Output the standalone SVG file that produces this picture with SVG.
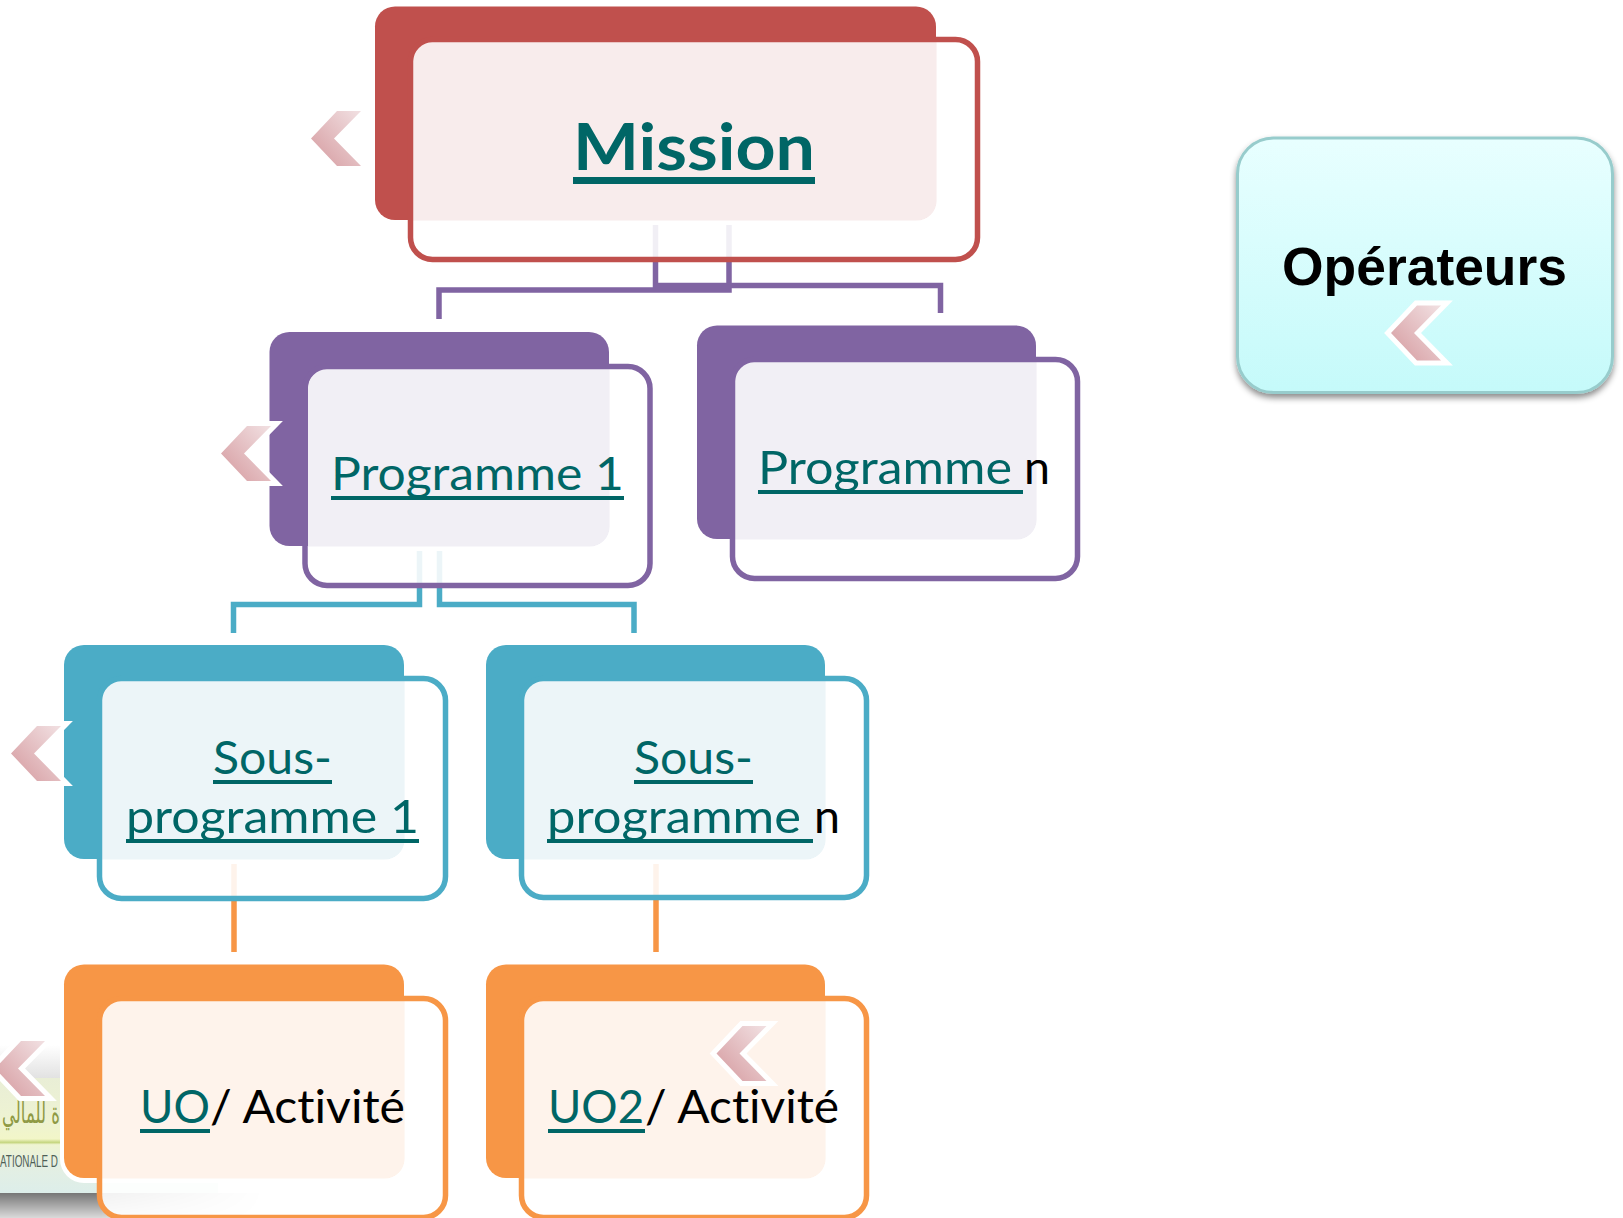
<svg xmlns="http://www.w3.org/2000/svg" width="1623" height="1218" viewBox="0 0 1623 1218">
<style>
text{font-family:"Lato","Noto Sans",sans-serif}
.lk{fill:#006666}
.bk{fill:#000}
.ul{fill:#006666}
.s{font-size:46px;font-variant-ligatures:none}
.front{fill:none;stroke-width:5.5}
.conn{fill:none;stroke-width:5.5}
.red .b{fill:#C0504D}.red .o{fill:#F8ECEC}.red .front{stroke:#C0504D}
.pur .b{fill:#8064A2}.pur .o{fill:#F1EFF5}.pur .front{stroke:#8064A2}
.blu .b{fill:#4BACC6}.blu .o{fill:#ECF5F8}.blu .front{stroke:#4BACC6}
.org .b{fill:#F79646}.org .o{fill:#FEF3EB}.org .front{stroke:#F79646}
.chev{fill:url(#chevGrad);stroke:#fff;stroke-width:10;paint-order:stroke;stroke-miterlimit:4}
</style>
<defs>
<linearGradient id="chevGrad" x1="0.9" y1="0" x2="0.2" y2="0.7"><stop offset="0" stop-color="#F0DDDF"/><stop offset="1" stop-color="#DCABAF"/></linearGradient>
<linearGradient id="opGrad" x1="0" y1="0" x2="0" y2="1"><stop offset="0" stop-color="#E8FFFF"/><stop offset="1" stop-color="#C5FAFA"/></linearGradient>
<linearGradient id="logoGrad" x1="0" y1="0" x2="0" y2="1">
<stop offset="0" stop-color="#E9EED6"/><stop offset="0.38" stop-color="#EEF3D2"/><stop offset="0.53" stop-color="#F2F6C8"/><stop offset="0.56" stop-color="#C6D680"/><stop offset="0.58" stop-color="#EFF4D2"/><stop offset="0.75" stop-color="#E4EFE2"/><stop offset="1" stop-color="#DDEEEA"/></linearGradient>
<linearGradient id="topGrad" x1="0" y1="0" x2="0" y2="1"><stop offset="0" stop-color="#fff"/><stop offset="1" stop-color="#E2E2E2"/></linearGradient>
<linearGradient id="shGrad" x1="0" y1="0" x2="0" y2="1"><stop offset="0" stop-color="#767676"/><stop offset="1" stop-color="#DADADA"/></linearGradient>
<linearGradient id="fadeGrad" gradientUnits="userSpaceOnUse" x1="100" y1="0" x2="270" y2="0"><stop offset="0" stop-color="#fff"/><stop offset="1" stop-color="#000"/></linearGradient>
<mask id="fade" maskUnits="userSpaceOnUse" x="0" y="1190" width="300" height="28"><rect x="0" y="1190" width="300" height="28" fill="url(#fadeGrad)"/></mask>
<filter id="opShadow" x="-5%" y="-5%" width="110%" height="115%"><feDropShadow dx="0" dy="4" stdDeviation="3" flood-color="#000" flood-opacity="0.45"/></filter>
<polygon id="chevron" class="chev" points="26,0 50,0 23,27.5 50,55 26,55 0,27.5"/>
</defs>

<g id="logo">
<rect x="0" y="1045" width="60" height="33" fill="url(#topGrad)"/>
<rect x="0" y="1078" width="218" height="115" fill="url(#logoGrad)"/>
<rect x="0" y="1193" width="280" height="25" fill="url(#shGrad)" mask="url(#fade)"/>
<text x="60" y="1123" direction="rtl" style="font-family:'DejaVu Sans',sans-serif" font-size="30" fill="#8F9A45" textLength="58" lengthAdjust="spacingAndGlyphs">ة للمالي</text>
<text x="0" y="1167" style="font-family:'Liberation Sans',sans-serif" font-size="16.5" fill="#4F5F58" textLength="58" lengthAdjust="spacingAndGlyphs">ATIONALE D</text>
<rect x="99.5" y="997.5" width="346" height="219" rx="22" fill="#fff" fill-opacity="0.9"/>
</g>

<g id="connectors">
<g class="conn" stroke="#F1EFF5"><path d="M655.5 225V262M729 225V262"/></g>
<path class="conn" stroke="#8064A2" d="M655.5 258V285.5H940.5V313"/>
<path class="conn" stroke="#8064A2" d="M729 258V290H439V319"/>
<g class="conn" stroke="#ECF5F8"><path d="M419.5 551V587M439.5 551V587"/></g>
<path class="conn" stroke="#4BACC6" d="M419.5 583V604.5H233.5V633"/>
<path class="conn" stroke="#4BACC6" d="M439.5 583V604.5H634V633"/>
<path class="conn" stroke="#FEF3EB" d="M234 864V900M656 864V900"/>
<path class="conn" stroke="#F79646" d="M234 896V952M656 896V952"/>
</g>

<g id="node-mission" class="red">
<rect class="b" x="375" y="6.5" width="561" height="213.5" rx="20"/>
<path class="o" d="M431 42H936.6V200.6A20 20 0 0 1 916.6 220.6H413V60A18 18 0 0 1 431 42Z"/>
<rect class="front" x="410.5" y="39.5" width="567" height="220" rx="22"/>
<text class="lk" x="573" y="170" font-size="65" font-weight="700" textLength="242" lengthAdjust="spacingAndGlyphs">Mission</text>
<rect class="ul" x="573" y="177" width="242" height="7"/>
</g>

<g id="node-programme-1" class="pur">
<rect class="b" x="269.5" y="332" width="339.5" height="214" rx="20"/>
<path class="o" d="M326 369H609.6V526.6A20 20 0 0 1 589.6 546.6H308V387A18 18 0 0 1 326 369Z"/>
<rect class="front" x="305" y="366.5" width="345" height="219" rx="22"/>
<text class="lk s" x="331" y="490" textLength="293" lengthAdjust="spacingAndGlyphs">Programme 1</text>
<rect class="ul" x="331" y="496" width="293" height="4"/>
</g>

<g id="node-programme-n" class="pur">
<rect class="b" x="697" y="325.5" width="339" height="213.5" rx="20"/>
<path class="o" d="M753 362H1036.6V519.6A20 20 0 0 1 1016.6 539.6H735V380A18 18 0 0 1 753 362Z"/>
<rect class="front" x="732.5" y="359.5" width="345" height="219" rx="22"/>
<text class="lk s" x="758" y="484" textLength="254" lengthAdjust="spacingAndGlyphs">Programme</text>
<rect class="ul" x="758" y="490" width="265" height="4"/>
<text class="bk s" x="1024" y="484" textLength="26" lengthAdjust="spacingAndGlyphs">n</text>
</g>

<g id="node-sous-programme-1" class="blu">
<rect class="b" x="64" y="645" width="340" height="214" rx="20"/>
<path class="o" d="M120 681H404.6V839.6A20 20 0 0 1 384.6 859.6H102V699A18 18 0 0 1 120 681Z"/>
<rect class="front" x="99.5" y="678.5" width="346" height="220" rx="22"/>
<text class="lk s" x="213" y="774" textLength="119" lengthAdjust="spacingAndGlyphs">Sous-</text>
<rect class="ul" x="213" y="780" width="119" height="4"/>
<text class="lk s" x="126" y="833" textLength="293" lengthAdjust="spacingAndGlyphs">programme 1</text>
<rect class="ul" x="126" y="839" width="293" height="4"/>
</g>

<g id="node-sous-programme-n" class="blu">
<rect class="b" x="486" y="645" width="339" height="214" rx="20"/>
<path class="o" d="M542 681H825.6V839.6A20 20 0 0 1 805.6 859.6H524V699A18 18 0 0 1 542 681Z"/>
<rect class="front" x="521.5" y="678.5" width="345" height="219" rx="22"/>
<text class="lk s" x="634" y="774" textLength="119" lengthAdjust="spacingAndGlyphs">Sous-</text>
<rect class="ul" x="634" y="780" width="119" height="4"/>
<text class="lk s" x="547" y="833" textLength="254" lengthAdjust="spacingAndGlyphs">programme</text>
<rect class="ul" x="547" y="839" width="266" height="4"/>
<text class="bk s" x="814" y="833" textLength="26" lengthAdjust="spacingAndGlyphs">n</text>
</g>

<g id="node-uo" class="org">
<rect x="60" y="960.5" width="348" height="222.5" rx="24" fill="#fff"/>
<rect class="b" x="64" y="964.5" width="340" height="213.5" rx="20"/>
<path class="o" d="M120 1001H404.6V1158.6A20 20 0 0 1 384.6 1178.6H102V1019A18 18 0 0 1 120 1001Z"/>
<rect class="front" x="99.5" y="998.5" width="346" height="219" rx="22"/>
<text class="lk s" x="140" y="1123" textLength="70" lengthAdjust="spacingAndGlyphs">UO</text>
<rect class="ul" x="140" y="1129" width="70" height="4"/>
<text class="bk s" x="210" y="1123" textLength="195" lengthAdjust="spacingAndGlyphs">/ Activité</text>
</g>

<g id="node-uo2" class="org">
<rect class="b" x="486" y="964.5" width="339" height="213.5" rx="20"/>
<path class="o" d="M542 1001H825.6V1158.6A20 20 0 0 1 805.6 1178.6H524V1019A18 18 0 0 1 542 1001Z"/>
<rect class="front" x="521.5" y="998.5" width="345" height="219" rx="22"/>
<text class="lk s" x="548" y="1123" textLength="96" lengthAdjust="spacingAndGlyphs">UO2</text>
<rect class="ul" x="548" y="1129" width="97" height="4"/>
<text class="bk s" x="645" y="1123" textLength="194" lengthAdjust="spacingAndGlyphs">/ Activité</text>
</g>

<g id="node-operateurs">
<rect x="1237.5" y="138" width="375" height="254.5" rx="36" fill="url(#opGrad)" stroke="#97CCCC" stroke-width="3" filter="url(#opShadow)"/>
<text x="1282" y="285" style="font-family:'Liberation Sans',Arial,sans-serif" font-size="53" font-weight="700" fill="#000" textLength="285" lengthAdjust="spacingAndGlyphs">Opérateurs</text>
</g>

<g id="chevrons">
<use href="#chevron" x="311" y="111"/>
<use href="#chevron" x="221" y="426"/>
<use href="#chevron" x="11" y="726"/>
<use href="#chevron" x="-5" y="1041"/>
<use href="#chevron" x="716.5" y="1026"/>
<use href="#chevron" x="1391" y="305.5"/>
</g>
</svg>
